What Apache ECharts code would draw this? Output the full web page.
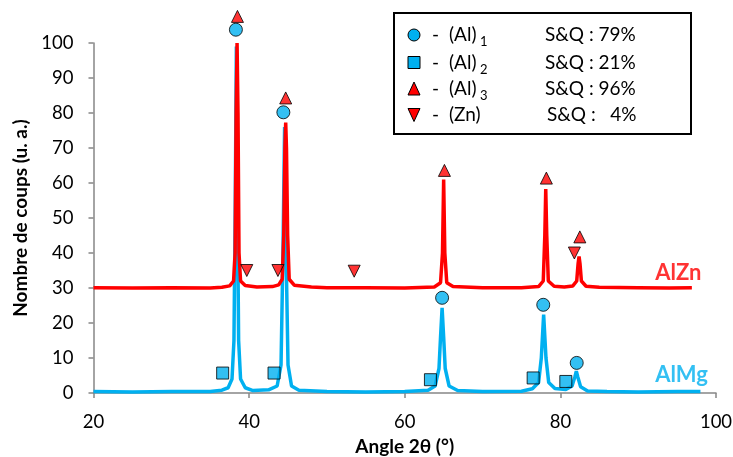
<!DOCTYPE html>
<html>
<head>
<meta charset="utf-8">
<script src="https://cdn.jsdelivr.net/npm/echarts@6/dist/echarts.min.js"></script>
<style>
html,body{margin:0;padding:0;background:#fff;}
#chart{width:733px;height:457px;}
</style>
</head>
<body>
<div id="chart"></div>
<script>
// ---- data ----
var xTicks = [20, 40, 60, 80, 100];
var yTicks = [0, 10, 20, 30, 40, 50, 60, 70, 80, 90, 100];

// AlZn diffractogram (offset baseline ~30)
var alZn = [
  [20,30.1],[25,30.0],[30,30.1],[35,30.0],[36.5,30.2],[37.5,30.6],[38.0,32],[38.2,40],[38.33,80],[38.45,100],
  [38.57,80],[38.7,40],[38.9,32],[39.5,30.7],[41,30.3],[43,30.4],[43.8,30.9],[44.25,32.5],[44.45,45],[44.6,70],
  [44.7,77.3],[44.8,70],[44.95,45],[45.15,32.5],[45.8,30.8],[48,30.3],[50,30.1],[55,30.1],[60,30.0],[63.8,30.3],
  [64.6,31.5],[64.85,40],[65.0,61],[65.15,40],[65.4,31.5],[66.2,30.4],[70,30.1],[75,30.1],[77.2,30.4],[77.8,32],
  [78.0,45],[78.12,58.3],[78.25,45],[78.45,32],[79.2,30.5],[80.5,30.3],[81.6,30.6],[82.1,32],[82.28,37],[82.4,39],
  [82.52,37],[82.7,32],[83.3,30.5],[85,30.2],[90,30.1],[94,30.0],[96.9,30.1]
];
// AlMg diffractogram (baseline ~0)
var alMg = [
  [20,0.4],[25,0.3],[30,0.4],[35,0.4],[36.5,0.8],[37.3,1.5],[37.8,4],[38.05,15],[38.22,55],[38.36,99],
  [38.5,55],[38.65,15],[38.9,4],[39.5,1.5],[40.5,0.7],[42.5,0.9],[43.6,2],[44.1,8],[44.35,40],[44.56,76],
  [44.75,40],[45.0,8],[45.45,2],[46.4,0.8],[50,0.4],[55,0.3],[60,0.4],[63,0.8],[63.9,2],[64.4,7],
  [64.6,16],[64.8,24.3],[65.0,16],[65.2,7],[65.7,2],[66.8,0.7],[70,0.4],[75,0.5],[76.4,1.2],[77.2,3],
  [77.55,10],[77.85,22.4],[78.15,10],[78.5,3],[79.3,1.3],[80.7,1.0],[81.5,2],[81.85,4.5],[82.05,6.2],[82.25,4.5],
  [82.6,1.8],[83.5,0.6],[86,0.4],[90,0.3],[95,0.4],[98.0,0.4]
];

// phase markers
var al1Marks = [[38.3,103.8],[44.4,80.2],[64.8,27.2],[77.8,25.2],[82.1,8.6]];   // circles
var al2Marks = [[36.6,5.7],[43.2,5.7],[63.3,3.8],[76.5,4.3],[80.7,3.3]];       // squares
var al3Marks = [[38.5,107.6],[44.7,84.3],[65.1,63.6],[78.2,61.4],[82.5,44.6]]; // up triangles
var znMarks  = [[39.7,35.0],[43.7,35.0],[53.5,34.8],[81.8,40.0]];              // down triangles

// series labels
var seriesLabels = [
  {name: 'AlZn', value: [92.2, 34.4], color: '#FF0000'},
  {name: 'AlMg', value: [92.2, 5.2], color: '#00B0F0'}
];

// legend content
var legendPhases = ['(Al)', '(Al)', '(Al)', '(Zn)'];
var legendSubs = ['1', '2', '3', ''];
var legendSQ = ['S&Q : 79%', 'S&Q : 21%', 'S&Q : 96%', 'S&Q :   4%'];

var BLUE = '#00B0F0', RED = '#FF0000', AXIS = '#868686';
var FONT = 'Lato, "Open Sans", sans-serif';

var chart = echarts.init(document.getElementById('chart'));

// legend graphics
var lgX = 394, lgY = 13, lgW = 297, lgH = 121;
var rowY = [35, 62.5, 89, 114.5];
var graphics = [{
  type: 'rect', shape: {x: lgX, y: lgY, width: lgW, height: lgH},
  style: {fill: '#fff', stroke: '#000', lineWidth: 2}, z: 10
}];
var mk = 414;
graphics.push({type:'circle', shape:{cx:mk, cy:rowY[0], r:6}, style:{fill:BLUE, stroke:'#000', lineWidth:1}, z:11});
graphics.push({type:'rect', shape:{x:mk-6, y:rowY[1]-6, width:12, height:12}, style:{fill:BLUE, stroke:'#000', lineWidth:1}, z:11});
graphics.push({type:'polygon', shape:{points:[[mk, rowY[2]-7],[mk+6, rowY[2]+6],[mk-6, rowY[2]+6]]}, style:{fill:RED, stroke:'#000', lineWidth:1}, z:11});
graphics.push({type:'polygon', shape:{points:[[mk-6, rowY[3]-6],[mk+6, rowY[3]-6],[mk, rowY[3]+7]]}, style:{fill:RED, stroke:'#000', lineWidth:1}, z:11});
for (var i = 0; i < 4; i++) {
  graphics.push({type:'text', x:432, y:rowY[i], z:11, style:{text:'-', font:'19px ' + FONT, fill:'#000', verticalAlign:'middle'}});
  graphics.push({type:'text', x:449, y:rowY[i], z:11, style:{text:legendPhases[i], font:'19px ' + FONT, fill:'#000', verticalAlign:'middle'}});
  if (legendSubs[i]) {
    graphics.push({type:'text', x:480, y:rowY[i] + 7, z:11, style:{text:legendSubs[i], font:'13px ' + FONT, fill:'#000', verticalAlign:'middle'}});
  }
  graphics.push({type:'text', x:(i === 3 ? 547 : 545), y:rowY[i], z:11, style:{text:legendSQ[i], font:'19px ' + FONT, fill:'#000', verticalAlign:'middle'}});
}

var markerStyle = function (c) { return {color: c, borderColor: '#000', borderWidth: 1}; };

chart.setOption({
  animation: false,
  backgroundColor: '#fff',
  grid: {left: 93.5, right: 17, top: 43, bottom: 64, containLabel: false, outerBoundsMode: 'none'},
  xAxis: {
    type: 'value', min: xTicks[0], max: xTicks[xTicks.length - 1], interval: 20,
    name: 'Angle 2θ (°)', nameLocation: 'middle', nameGap: 44,
    nameTextStyle: {fontFamily: FONT, fontWeight: 'bold', fontSize: 19, color: '#000'},
    axisLine: {lineStyle: {color: AXIS, width: 1.5}},
    axisTick: {show: true, length: 5, lineStyle: {color: AXIS, width: 1.5}},
    axisLabel: {fontFamily: FONT, fontSize: 18.5, color: '#000', margin: 20},
    splitLine: {show: false}
  },
  yAxis: {
    type: 'value', min: yTicks[0], max: yTicks[yTicks.length - 1], interval: 10,
    name: 'Nombre de coups (u. a.)', nameLocation: 'middle', nameGap: 60,
    nameTextStyle: {fontFamily: FONT, fontWeight: 'bold', fontSize: 19, color: '#000'},
    axisLine: {show: true, lineStyle: {color: AXIS, width: 1.5}},
    axisTick: {show: true, length: 5, lineStyle: {color: AXIS, width: 1.5}},
    axisLabel: {fontFamily: FONT, fontSize: 18.5, color: '#000', margin: 20},
    splitLine: {show: false}
  },
  graphic: graphics,
  series: [
    {type: 'line', name: 'AlMg', data: alMg, showSymbol: false, symbol: 'none', clip: false,
     lineStyle: {color: BLUE, width: 3.5}, z: 2},
    {type: 'line', name: 'AlZn', data: alZn, showSymbol: false, symbol: 'none', clip: false,
     lineStyle: {color: RED, width: 3.5}, z: 3},
    {type: 'scatter', name: '(Al)1', data: al1Marks, symbol: 'circle', symbolSize: 13, clip: false,
     itemStyle: markerStyle(BLUE), z: 5},
    {type: 'scatter', name: '(Al)2', data: al2Marks, symbol: 'rect', symbolSize: 12, clip: false,
     itemStyle: markerStyle(BLUE), z: 5},
    {type: 'scatter', name: '(Al)3', data: al3Marks, symbol: 'triangle', symbolSize: [12, 12], clip: false,
     itemStyle: markerStyle(RED), z: 5},
    {type: 'scatter', name: '(Zn)', data: znMarks, symbol: 'triangle', symbolRotate: 180, symbolSize: [12, 12], clip: false,
     itemStyle: markerStyle(RED), z: 5},
    {type: 'scatter', name: 'labels', symbolSize: 0, clip: false, silent: true, z: 6,
     data: seriesLabels.map(function (l) {
       return {name: l.name, value: l.value,
               label: {show: true, position: 'right', distance: 0, formatter: '{b}',
                       fontFamily: FONT, fontWeight: 'bold', fontSize: 22, color: l.color}};
     })}
  ]
});
</script>
</body>
</html>
